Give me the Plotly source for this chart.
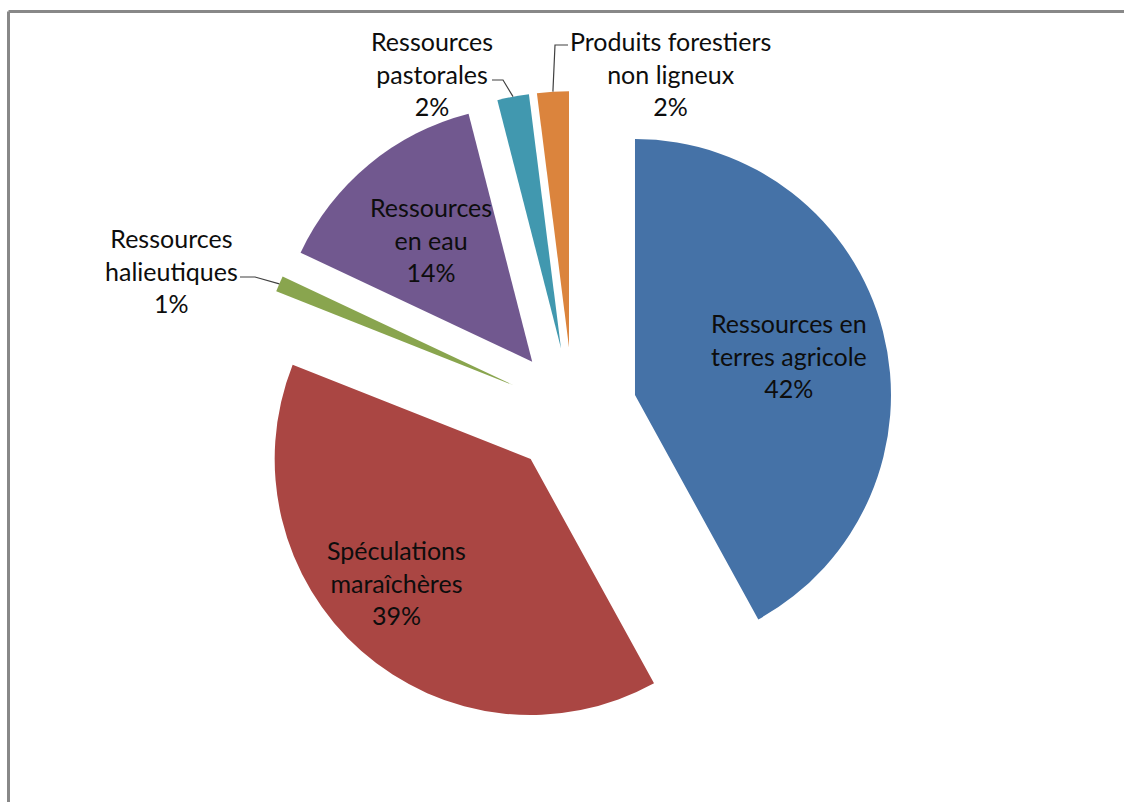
import math
import plotly.graph_objects as go

# ---- data ----
labels = ["Ressources en terres agricole", "Spéculations maraîchères",
          "Ressources halieutiques", "Ressources en eau",
          "Ressources pastorales", "Produits forestiers non ligneux"]
label_lines = [["Ressources en", "terres agricole"], ["Spéculations", "maraîchères"],
               ["Ressources", "halieutiques"], ["Ressources", "en eau"],
               ["Ressources", "pastorales"], ["Produits forestiers", "non ligneux"]]
values = [42, 39, 1, 14, 2, 2]
colors = ["#4572A7", "#AA4643", "#89A54E", "#71588F", "#4198AF", "#DB843D"]

# ---- layout ----
W, H = 1124, 802
CX, CY = 573, 411          # pie centre (px)
PULL = 0.25
R = 256                    # slice radius (px)
EXT = R * (1 + PULL)

FONT = dict(family="Lato, Carlito, Calibri, sans-serif", size=25, color="#0d0d0d")

def px2paper(x, y):
    return x / W, 1 - y / H

total = sum(values)
mids = []
cum = 0
for v in values:
    mids.append(360.0 * (cum + v / 2) / total)
    cum += v

def polar(theta_deg, dist, base_theta=None):
    """point at distance dist from the (pulled) apex of a slice along theta"""
    bt = theta_deg if base_theta is None else base_theta
    ax = CX + PULL * R * math.sin(math.radians(bt))
    ay = CY - PULL * R * math.cos(math.radians(bt))
    return ax + dist * math.sin(math.radians(theta_deg)), ay - dist * math.cos(math.radians(theta_deg))

fig = go.Figure(go.Pie(
    labels=labels, values=values, sort=False, direction="clockwise", rotation=0,
    pull=[PULL] * len(values), textinfo="none", hoverinfo="label+percent",
    marker=dict(colors=colors, line=dict(width=0)),
    domain=dict(x=[(CX - EXT) / W, (CX + EXT) / W], y=[1 - (CY + EXT) / H, 1 - (CY - EXT) / H]),
    showlegend=False,
))

annotations = []
shapes = []

# inside labels: (slice index, radial fraction, angular offset)
inside = {0: (0.62, 0.0), 1: (0.71, 6.0), 3: (0.62, 0.0)}
for i, (frac, dth) in inside.items():
    x, y = polar(mids[i] + dth, frac * R, base_theta=mids[i])
    pxp, pyp = px2paper(x, y)
    txt = "<br>".join(label_lines[i] + [f"{values[i]}%"])
    annotations.append(dict(x=pxp, y=pyp, xref="paper", yref="paper", text=txt,
                            showarrow=False, font=FONT, align="center",
                            xanchor="center", yanchor="middle"))

# outside labels with leader lines: slice index -> (label centre px, elbow px, line end px)
outside = {
    2: ((171, 270), (255, 277), (240, 277)),
    4: ((432, 73), (503, 80), (492, 80)),
    5: ((670, 73), (555, 45), (568, 45)),
}
for i, (lab, elbow, end) in outside.items():
    sx, sy = polar(mids[i], R)          # middle of the outer arc
    pts = [(sx, sy), elbow, end]
    path = "M " + " L ".join(f"{px2paper(x, y)[0]},{px2paper(x, y)[1]}" for x, y in pts)
    shapes.append(dict(type="path", path=path, xref="paper", yref="paper",
                       line=dict(color="#404040", width=1.2)))
    lx, ly = px2paper(*lab)
    txt = "<br>".join(label_lines[i] + [f"{values[i]}%"])
    annotations.append(dict(x=lx, y=ly, xref="paper", yref="paper", text=txt,
                            showarrow=False, font=FONT, align="center",
                            xanchor="center", yanchor="middle"))

# chart frame: only left and top edges are visible in the picture
fx, fy = px2paper(8.5, 11.5)
shapes.append(dict(type="line", xref="paper", yref="paper",
                   x0=fx, x1=fx, y0=-0.05, y1=fy,
                   line=dict(color="#888888", width=3), layer="below"))
shapes.append(dict(type="line", xref="paper", yref="paper",
                   x0=fx, x1=1.05, y0=fy, y1=fy,
                   line=dict(color="#888888", width=3), layer="below"))

fig.update_layout(width=W, height=H, margin=dict(l=0, r=0, t=0, b=0),
                  paper_bgcolor="white", plot_bgcolor="white",
                  annotations=annotations, shapes=shapes)

fig.write_html("out.html")
